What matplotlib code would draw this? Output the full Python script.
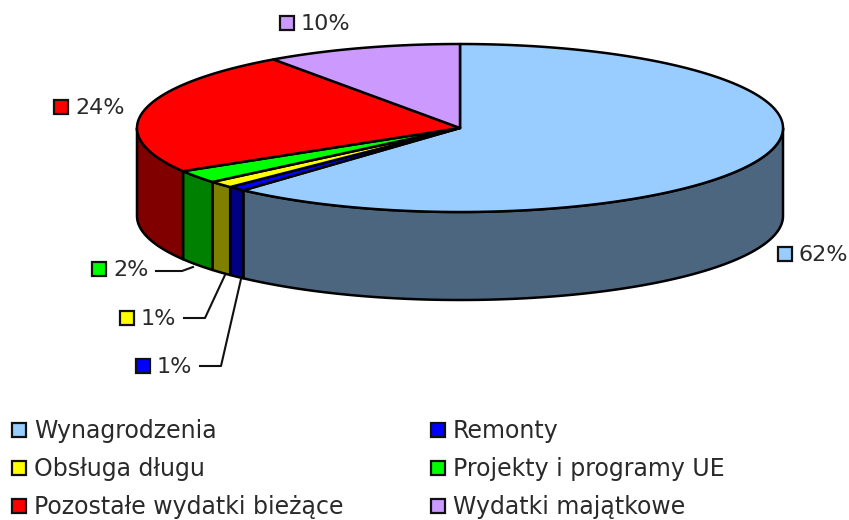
import numpy as np
import matplotlib.pyplot as plt
from matplotlib.patches import Polygon, Rectangle

categories = ["Wynagrodzenia", "Remonty", "Obsługa długu", "Projekty i programy UE",
              "Pozostałe wydatki bieżące", "Wydatki majątkowe"]
shares = [61.7, 0.9, 1.3, 2.5, 23.8, 9.8]
pct_labels = ["62%", "1%", "1%", "2%", "24%", "10%"]
top_colors = ["#99CCFF", "#0000FF", "#FFFF00", "#00FF00", "#FF0000", "#CC99FF"]
side_colors = ["#4D6680", "#000080", "#808000", "#008000", "#800000", "#664D80"]

cx, cy, rx, ry = 460, 128, 323, 84
depth = 88
EDGE = "#000000"
TXT = "#2a2a2a"
FONT = "DejaVu Sans"

fig = plt.figure(figsize=(8.49, 5.2), dpi=100)
ax = fig.add_axes([0, 0, 1, 1])
ax.set_xlim(0, 849)
ax.set_ylim(520, 0)
ax.axis("off")


def rim(a, b, dy=0):
    # a, b are degrees clockwise from the top of the ellipse
    t = np.radians(np.linspace(a, b, max(int(abs(b - a) * 2), 2)))
    return np.column_stack([cx + rx * np.sin(t), cy - ry * np.cos(t) + dy])


edges = np.concatenate([[0], np.cumsum(shares)]) / sum(shares) * 360

# side walls, only the front half shows
for i in range(len(shares)):
    a, b = max(edges[i], 90), min(edges[i + 1], 270)
    if a >= b:
        continue
    pts = np.vstack([rim(a, b), rim(a, b, depth)[::-1]])
    ax.add_patch(Polygon(pts, closed=True, fc=side_colors[i], ec=EDGE, lw=1.8, joinstyle="round"))

# top face
for i in range(len(shares)):
    pts = np.vstack([[cx, cy], rim(edges[i], edges[i + 1])])
    ax.add_patch(Polygon(pts, closed=True, fc=top_colors[i], ec=EDGE, lw=1.8, joinstyle="round"))

# leader lines
leaders = [([156, 182, 193], [271, 271, 267]),
           ([184, 205, 225], [318, 318, 275]),
           ([200, 221, 241], [366, 366, 279])]
for xs, ys in leaders:
    ax.plot(xs, ys, color="#111111", lw=1.5)


def key(x, y, color):
    ax.add_patch(Rectangle((x, y), 14, 14, fc=color, ec="#111111", lw=1.6))


# percent labels: series index, key x, key y
label_pos = [(0, 778, 247), (1, 136, 359), (2, 120, 311), (3, 92, 262), (4, 54, 100), (5, 280, 16)]
for i, x, y in label_pos:
    key(x, y, top_colors[i])
    ax.text(x + 21, y + 8, pct_labels[i], fontsize=16, family=FONT, color=TXT, va="center", ha="left")

# legend
legend_pos = [(12, 423), (431, 423), (12, 461), (431, 461), (12, 499), (431, 499)]
for k, (x, y) in enumerate(legend_pos):
    key(x, y, top_colors[k])
    ax.text(x + 22, y + 8, categories[k], fontsize=17, family=FONT, color=TXT, va="center", ha="left")

fig.savefig("out.png", dpi=100)
